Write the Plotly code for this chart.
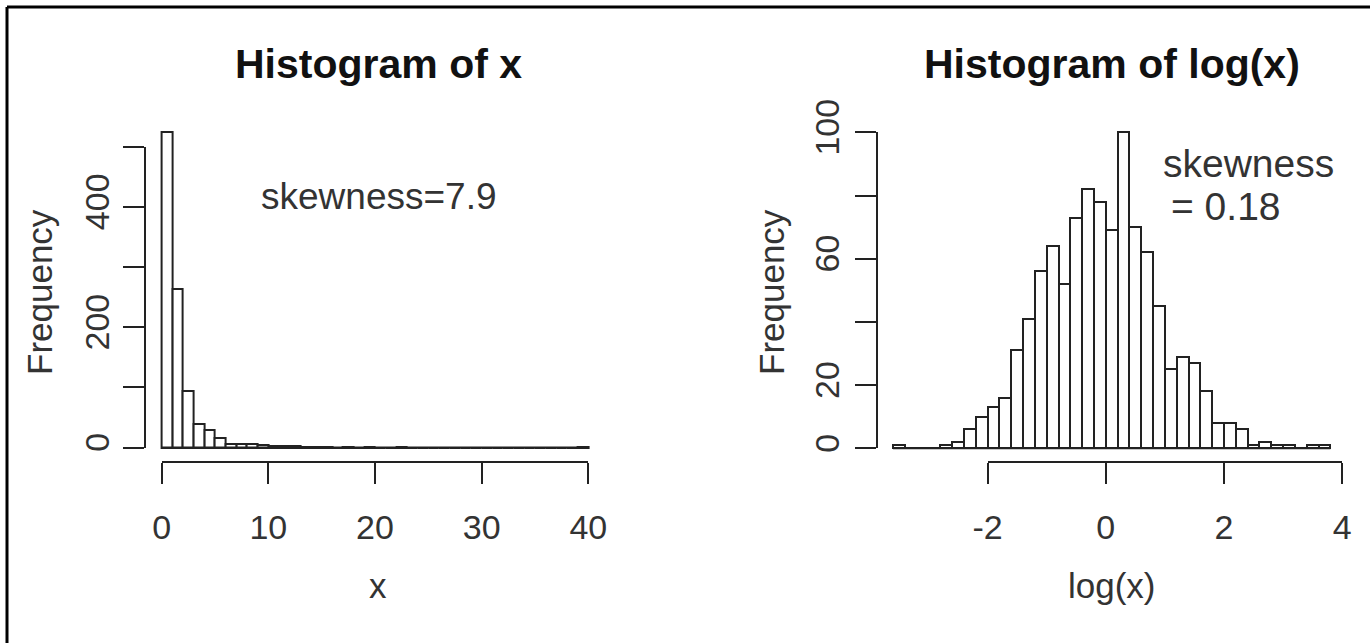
import plotly.graph_objects as go

# ---------------- data ----------------
x_bin_start = 0.0
x_bin_width = 1.0
x_counts = [525, 263, 94, 39, 29, 15, 6, 5, 5, 4,
            3, 2, 3, 1, 1, 1, 0, 1, 0, 1,
            0, 0, 1, 0, 0, 0, 0, 0, 0, 0,
            0, 0, 0, 0, 0, 0, 0, 0, 0, 1]

logx_bin_start = -3.6
logx_bin_width = 0.2
logx_counts = [1, 0, 0, 0, 1, 2, 6, 10, 13, 16,
               31, 41, 56, 64, 52, 73, 82, 78, 69, 100,
               70, 62, 45, 25, 29, 27, 18, 8, 8, 6,
               1, 2, 1, 1, 0, 1, 1]

x_ticks = [0, 10, 20, 30, 40]
x_tick_labels = ["0", "10", "20", "30", "40"]
x_freq_ticks = [0, 100, 200, 300, 400, 500]
x_freq_labels = ["0", "", "200", "", "400", ""]

logx_ticks = [-2, 0, 2, 4]
logx_tick_labels = ["-2", "0", "2", "4"]
logx_freq_ticks = [0, 20, 40, 60, 80, 100]
logx_freq_labels = ["0", "20", "", "60", "", "100"]

title_left = "Histogram of x"
title_right = "Histogram of log(x)"
xlab_left = "x"
xlab_right = "log(x)"
ylab = "Frequency"
note_left = "skewness=7.9"
note_right_1 = "skewness"
note_right_2 = "= 0.18"

# ---------------- geometry helpers ----------------
W, H = 1370, 643
FONT = "Liberation Sans, Arial, Helvetica, sans-serif"
INK = "#222222"
TXT = "#333333"


def fx(px):
    return px / W


def fy(py):
    return 1 - py / H


def xrange_for(dom_px, p0, s):
    return [(dom_px[0] - p0) / s, (dom_px[1] - p0) / s]


def yrange_for(dom_px, p0, s):
    # dom_px = (bottom_px, top_px); p = p0 - s*v
    return [(p0 - dom_px[0]) / s, (p0 - dom_px[1]) / s]


# pixel calibration (value -> pixel)
LX_P0, LX_S = 161.7, 10.665
LY_P0, LY_S = 447.5, 0.6016
RX_P0, RX_S = 1105.8, 59.1
RY_P0, RY_S = 448.3, 3.16
AXIS_Y_PX = 461.7
LEFT_YAXIS_PX = 145.0
RIGHT_YAXIS_PX = 876.7

L_DOM_X = (144.6, 605.4)
R_DOM_X = (875.0, 1350.0)
DOM_Y = (462.0, 115.0)

fig = go.Figure()


def hist_traces(start, width, counts, xa, ya):
    centers = [start + width * (i + 0.5) for i in range(len(counts))]
    fig.add_trace(go.Bar(
        x=centers, y=counts, width=[width] * len(counts),
        marker=dict(color="white", line=dict(color=INK, width=2)),
        xaxis=xa, yaxis=ya, showlegend=False, hoverinfo="skip"))
    edges = [start, start + width * len(counts)]
    fig.add_trace(go.Scatter(
        x=edges, y=[0, 0], mode="lines", line=dict(color=INK, width=2),
        xaxis=xa, yaxis=ya, showlegend=False, hoverinfo="skip"))


hist_traces(x_bin_start, x_bin_width, x_counts, "x", "y")
hist_traces(logx_bin_start, logx_bin_width, logx_counts, "x2", "y2")

# invisible traces for the R-style axes
fig.add_trace(go.Scatter(x=[x_ticks[0], x_ticks[-1]], y=[x_freq_ticks[0], x_freq_ticks[-1]],
                         mode="markers", marker=dict(opacity=0), xaxis="x3", yaxis="y3",
                         showlegend=False, hoverinfo="skip"))
fig.add_trace(go.Scatter(x=[logx_ticks[0], logx_ticks[-1]], y=[logx_freq_ticks[0], logx_freq_ticks[-1]],
                         mode="markers", marker=dict(opacity=0), xaxis="x4", yaxis="y4",
                         showlegend=False, hoverinfo="skip"))

hidden = dict(visible=False, showgrid=False, zeroline=False, fixedrange=True, automargin=False)

tick_common = dict(showline=True, linecolor=INK, linewidth=2, ticks="outside",
                   ticklen=21, tickwidth=2, tickcolor=INK, showgrid=False,
                   zeroline=False, tickmode="array", anchor="free", automargin=False,
                   tickfont=dict(family=FONT, size=34, color=TXT), fixedrange=True)

fig.update_layout(
    width=W, height=H,
    margin=dict(l=0, r=0, t=0, b=0, pad=0, autoexpand=False),
    paper_bgcolor="white", plot_bgcolor="rgba(0,0,0,0)",
    bargap=0, showlegend=False,
    xaxis=dict(domain=[fx(L_DOM_X[0]), fx(L_DOM_X[1])],
               range=xrange_for(L_DOM_X, LX_P0, LX_S), anchor="y", **hidden),
    yaxis=dict(domain=[fy(DOM_Y[0]), fy(DOM_Y[1])],
               range=yrange_for(DOM_Y, LY_P0, LY_S), anchor="x", **hidden),
    xaxis2=dict(domain=[fx(R_DOM_X[0]), fx(R_DOM_X[1])],
                range=xrange_for(R_DOM_X, RX_P0, RX_S), anchor="y2", **hidden),
    yaxis2=dict(domain=[fy(DOM_Y[0]), fy(DOM_Y[1])],
                range=yrange_for(DOM_Y, RY_P0, RY_S), anchor="x2", **hidden),
    xaxis3=dict(domain=[fx(LX_P0 + LX_S * x_ticks[0]), fx(LX_P0 + LX_S * x_ticks[-1])],
                range=[x_ticks[0], x_ticks[-1]], position=fy(AXIS_Y_PX),
                tickvals=x_ticks, ticktext=x_tick_labels, ticklabelstandoff=14,
                **tick_common),
    yaxis3=dict(domain=[fy(LY_P0 - LY_S * x_freq_ticks[0]), fy(LY_P0 - LY_S * x_freq_ticks[-1])],
                range=[x_freq_ticks[0], x_freq_ticks[-1]], position=fx(LEFT_YAXIS_PX),
                tickvals=x_freq_ticks, ticktext=x_freq_labels, tickangle=-90,
                ticklabelstandoff=0, **tick_common),
    xaxis4=dict(domain=[fx(RX_P0 + RX_S * logx_ticks[0]), fx(RX_P0 + RX_S * logx_ticks[-1])],
                range=[logx_ticks[0], logx_ticks[-1]], position=fy(AXIS_Y_PX),
                tickvals=logx_ticks, ticktext=logx_tick_labels, ticklabelstandoff=14,
                **tick_common),
    yaxis4=dict(domain=[fy(RY_P0 - RY_S * logx_freq_ticks[0]), fy(RY_P0 - RY_S * logx_freq_ticks[-1])],
                range=[logx_freq_ticks[0], logx_freq_ticks[-1]], position=fx(RIGHT_YAXIS_PX),
                tickvals=logx_freq_ticks, ticktext=logx_freq_labels, tickangle=-90,
                ticklabelstandoff=2, **tick_common),
)


def ann(text, px, py, size, bold=False, angle=0, color=TXT):
    fig.add_annotation(
        text=f"<b>{text}</b>" if bold else text,
        x=fx(px), y=fy(py), xref="paper", yref="paper",
        xanchor="center", yanchor="middle", showarrow=False, textangle=angle,
        font=dict(family=FONT, size=size, color=color))


ann(title_left, 379, 64, 41, bold=True, color="#111111")
ann(title_right, 1111.5, 64, 41, bold=True, color="#111111")
ann(note_left, 379, 197, 37)
ann(note_right_1, 1248, 163, 39)
ann(note_right_2, 1226, 206, 39)
ann(xlab_left, 378, 585, 35)
ann(xlab_right, 1111.5, 585, 35)
ann(ylab, 39, 292, 35, angle=-90)
ann(ylab, 771, 292, 35, angle=-90)

# frame of the original screenshot (top and left edges)
fig.add_shape(type="line", xref="paper", yref="paper",
              x0=fx(7), x1=1, y0=fy(7), y1=fy(7), line=dict(color="black", width=3))
fig.add_shape(type="line", xref="paper", yref="paper",
              x0=fx(7), x1=fx(7), y0=fy(7), y1=0, line=dict(color="black", width=3))

fig.write_html("out.html", config={"displayModeBar": False},
               post_script="document.body.style.margin='0';")
